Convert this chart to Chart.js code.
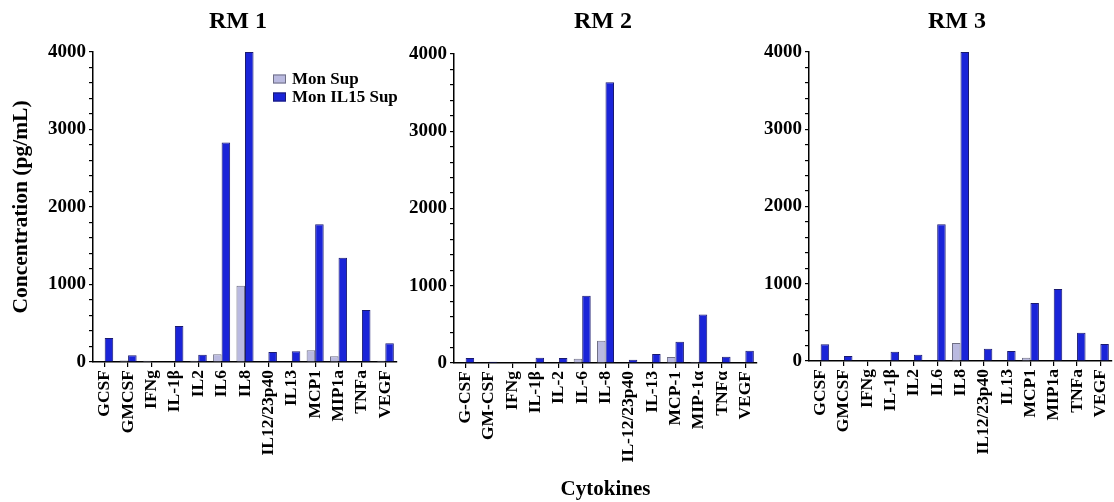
<!DOCTYPE html>
<html><head><meta charset="utf-8">
<script src="https://cdn.jsdelivr.net/npm/chart.js@4"></script>
<style>
html,body{margin:0;padding:0;background:#fff;}
#wrap{position:relative;width:1114px;height:502px;overflow:hidden;background:#fff;}
canvas{position:absolute;top:0;}
</style></head><body>
<div id="wrap">
<canvas id="c1" width="402" height="502" style="left:0px;width:402px;height:502px"></canvas>
<canvas id="c2" width="355" height="502" style="left:405px;width:355px;height:502px"></canvas>
<canvas id="c3" width="354" height="502" style="left:760px;width:354px;height:502px"></canvas>
</div>
<script>
// ---- data ----
const panelTitles = ['RM 1', 'RM 2', 'RM 3'];
const seriesNames = ['Mon Sup', 'Mon IL15 Sup'];
const categoriesRM1 = ['GCSF','GMCSF','IFNg','IL-1\u03b2','IL2','IL6','IL8','IL12/23p40','IL13','MCP1','MIP1a','TNFa','VEGF'];
const categoriesRM2 = ['G-CSF','GM-CSF','IFNg','IL-1\u03b2','IL-2','IL-6','IL-8','IL-12/23p40','IL-13','MCP-1','MIP-1\u03b1','TNF\u03b1','VEGF'];
const categoriesRM3 = ['GCSF','GMCSF','IFNg','IL-1\u03b2','IL2','IL6','IL8','IL12/23p40','IL13','MCP1','MIP1a','TNFa','VEGF'];
const monSupRM1   = [0, 18, 15, 0, 15, 99, 983, 0, 0, 151, 73, 0, 15];
const monIL15RM1  = [310, 86, 0, 465, 95, 2832, 4000, 129, 138, 1776, 1345, 672, 241];
const monSupRM2   = [0, 0, 0, 0, 8, 56, 289, 0, 0, 78, 13, 0, 0];
const monIL15RM2  = [65, 15, 0, 69, 65, 871, 3634, 43, 116, 276, 629, 82, 160];
const monSupRM3   = [0, 0, 0, 0, 0, 8, 233, 0, 0, 43, 8, 0, 0];
const monIL15RM3  = [216, 65, 0, 121, 82, 1771, 4000, 160, 130, 752, 933, 367, 220];
const yTickValues = [0, 1000, 2000, 3000, 4000];
const yAxisTitle = 'Concentration (pg/mL)';
const xAxisTitle = 'Cytokines';

// ---- style ----
const FONT = '"Liberation Serif", "Times New Roman", serif';
Chart.defaults.font.family = FONT;
Chart.defaults.color = '#000';
const GREY = '#babae0', GREY_B = '#6f6f85';
const BLUE = '#1a24d8', BLUE_B = '#1a1a70';

const titlePlugin = {
  id: 'panelTitle',
  afterDraw(chart, args, o) {
    const ctx = chart.ctx;
    ctx.save();
    ctx.font = 'bold 24px ' + FONT;
    ctx.fillStyle = '#000';
    ctx.textAlign = 'center';
    ctx.textBaseline = 'middle';
    ctx.fillText(o.text, o.x, o.y);
    ctx.restore();
  }
};
const legendPlugin = {
  id: 'boxLegend',
  afterDraw(chart, args, o) {
    if (!o.show) return;
    const ctx = chart.ctx;
    ctx.save();
    chart.data.datasets.forEach((ds, i) => {
      const y = o.y + i * o.gap;
      ctx.fillStyle = ds.backgroundColor;
      ctx.fillRect(o.x, y - 4.5, 13, 9);
      ctx.strokeStyle = ds.borderColor;
      ctx.lineWidth = 1;
      ctx.strokeRect(o.x + 0.5, y - 4, 12, 8);
      ctx.fillStyle = '#000';
      ctx.font = 'bold 17px ' + FONT;
      ctx.textBaseline = 'middle';
      ctx.textAlign = 'left';
      ctx.fillText(ds.label, o.x + 19, y + 1);
    });
    ctx.restore();
  }
};

function makeChart(id, idx, labels, mon, il15, geo) {
  return new Chart(document.getElementById(id), {
    type: 'bar',
    data: {
      labels: labels,
      datasets: [
        { label: seriesNames[0], data: mon, backgroundColor: GREY, borderColor: GREY_B, borderWidth: 1,
          categoryPercentage: 0.73, barPercentage: 1.0 },
        { label: seriesNames[1], data: il15, backgroundColor: BLUE, borderColor: BLUE_B, borderWidth: 1,
          categoryPercentage: 0.73, barPercentage: 1.0 }
      ]
    },
    plugins: [titlePlugin, legendPlugin],
    options: {
      responsive: false,
      animation: false,
      devicePixelRatio: 1,
      layout: { padding: { top: geo.top, right: geo.right, left: 0, bottom: 0 } },
      plugins: {
        legend: { display: false },
        tooltip: { enabled: false },
        title: { display: false },
        panelTitle: { text: panelTitles[idx], x: geo.titleX, y: 22 },
        boxLegend: { show: idx === 0, x: 273, y: 79, gap: 18 }
      },
      scales: {
        x: {
          offset: true,
          ticks: { autoSkip: false, maxRotation: 90, minRotation: 90, padding: 3,
                   font: { family: FONT, size: 17.5, weight: 'bold' }, color: '#000' },
          grid: { drawOnChartArea: false, drawTicks: true, tickLength: 5, color: '#000', offset: false, lineWidth: 1.2 },
          border: { display: true, color: '#000', width: 1.5 },
          title: { display: idx === 1, text: xAxisTitle, padding: { top: 0, bottom: 0 },
                   font: { family: FONT, size: 21, weight: 'bold' }, color: '#000' },
          afterFit: s => { s.height = geo.xH; s.paddingLeft = 0; s.paddingRight = 0; }
        },
        y: {
          min: 0, max: 4000,
          ticks: { stepSize: 200, autoSkip: false, padding: 3,
                   callback: v => (yTickValues.includes(v) ? String(v) : ''),
                   font: { family: FONT, size: 19, weight: 'bold' }, color: '#000' },
          grid: { drawOnChartArea: false, drawTicks: true, tickLength: 4, color: '#000', lineWidth: 1.2 },
          border: { display: true, color: '#000', width: 1.5 },
          title: { display: idx === 0, text: yAxisTitle, padding: { top: 9, bottom: 0 },
                   font: { family: FONT, size: 21.5, weight: 'bold' }, color: '#000' },
          afterFit: s => { s.width = geo.yW; }
        }
      }
    }
  });
}

makeChart('c1', 0, categoriesRM1, monSupRM1, monIL15RM1, { top: 52, right: 5, xH: 140, yW: 93, titleX: 238 });
makeChart('c2', 1, categoriesRM2, monSupRM2, monIL15RM2, { top: 54, right: 3, xH: 139, yW: 49, titleX: 198 });
makeChart('c3', 2, categoriesRM3, monSupRM3, monIL15RM3, { top: 52, right: 2, xH: 141, yW: 49, titleX: 197 });
</script>
</body></html>
